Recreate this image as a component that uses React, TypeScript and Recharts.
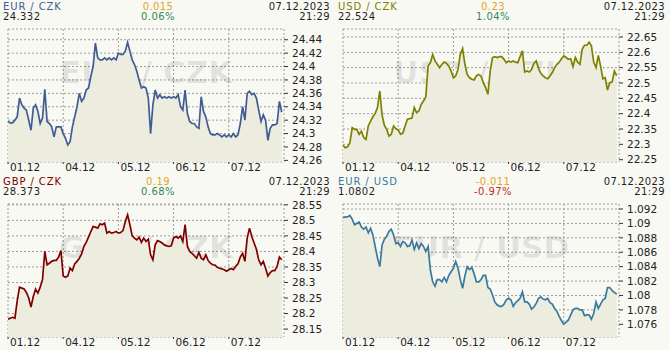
import React from 'react';
import { ComposedChart, Area, Line, XAxis, YAxis, CartesianGrid, Customized } from 'recharts';

// Trading-day boundaries (hour index) and their labels
const dayLabels = ['01.12', '04.12', '05.12', '06.12', '07.12'];
const dayStartHours = [0, 24, 48, 72, 96];
const hoursShown = 120;

// Hourly rates, 01.12 00:00 .. 07.12 ~23:00 (weekend removed)
const eurCzk = [
  24.318, 24.316, 24.316, 24.320, 24.325, 24.353, 24.343, 24.338, 24.335, 24.320,
  24.305, 24.338, 24.343, 24.333, 24.315, 24.323, 24.366, 24.318, 24.315, 24.310,
  24.295, 24.310, 24.310, 24.310, 24.300, 24.293, 24.283, 24.288, 24.310, 24.325,
  24.340, 24.360, 24.348, 24.353, 24.365, 24.368, 24.385, 24.400, 24.435, 24.413,
  24.410, 24.410, 24.413, 24.410, 24.413, 24.410, 24.413, 24.410, 24.420, 24.418,
  24.418, 24.423, 24.436, 24.423, 24.410, 24.403, 24.393, 24.380, 24.368, 24.370,
  24.368, 24.353, 24.300, 24.343, 24.365, 24.353, 24.358, 24.353, 24.355, 24.353,
  24.355, 24.353, 24.355, 24.353, 24.358, 24.340, 24.335, 24.365, 24.330, 24.318,
  24.315, 24.315, 24.310, 24.308, 24.355, 24.333, 24.325, 24.310, 24.300, 24.298,
  24.298, 24.300, 24.298, 24.295, 24.298, 24.295, 24.298, 24.295, 24.300, 24.295,
  24.298, 24.315, 24.340, 24.320, 24.360, 24.363, 24.358, 24.360, 24.353, 24.335,
  24.318, 24.328, 24.320, 24.290, 24.308, 24.313, 24.313, 24.315, 24.348, 24.332,
];

const usdCzk = [
  22.297, 22.289, 22.292, 22.305, 22.354, 22.349, 22.349, 22.333, 22.343, 22.322,
  22.316, 22.360, 22.376, 22.390, 22.401, 22.420, 22.474, 22.395, 22.362, 22.349,
  22.327, 22.333, 22.360, 22.351, 22.347, 22.333, 22.336, 22.360, 22.382, 22.384,
  22.386, 22.420, 22.403, 22.409, 22.430, 22.441, 22.455, 22.555, 22.566, 22.593,
  22.572, 22.561, 22.550, 22.561, 22.568, 22.564, 22.555, 22.539, 22.517, 22.523,
  22.545, 22.593, 22.612, 22.561, 22.528, 22.517, 22.512, 22.510, 22.523, 22.528,
  22.523, 22.501, 22.485, 22.463, 22.539, 22.583, 22.586, 22.583, 22.586, 22.586,
  22.577, 22.566, 22.572, 22.568, 22.572, 22.568, 22.566, 22.586, 22.605, 22.536,
  22.539, 22.536, 22.545, 22.564, 22.572, 22.547, 22.532, 22.523, 22.517, 22.514,
  22.523, 22.534, 22.550, 22.561, 22.568, 22.579, 22.588, 22.583, 22.577, 22.579,
  22.553, 22.583, 22.568, 22.561, 22.610, 22.623, 22.623, 22.633, 22.621, 22.568,
  22.550, 22.590, 22.555, 22.514, 22.517, 22.477, 22.501, 22.503, 22.539, 22.524,
];

const gbpCzk = [
  28.182, 28.185, 28.188, 28.185, 28.240, 28.285, 28.282, 28.279, 28.268, 28.250,
  28.221, 28.255, 28.279, 28.266, 28.285, 28.309, 28.400, 28.357, 28.362, 28.368,
  28.371, 28.371, 28.382, 28.403, 28.321, 28.317, 28.321, 28.346, 28.338, 28.360,
  28.368, 28.378, 28.392, 28.416, 28.429, 28.446, 28.464, 28.480, 28.478, 28.475,
  28.489, 28.486, 28.491, 28.459, 28.464, 28.459, 28.461, 28.464, 28.459, 28.461,
  28.467, 28.496, 28.518, 28.486, 28.450, 28.443, 28.437, 28.446, 28.429, 28.443,
  28.432, 28.439, 28.389, 28.373, 28.421, 28.435, 28.432, 28.427, 28.421, 28.418,
  28.416, 28.418, 28.443, 28.448, 28.443, 28.450, 28.432, 28.486, 28.416, 28.400,
  28.394, 28.386, 28.378, 28.397, 28.378, 28.373, 28.389, 28.371, 28.362, 28.357,
  28.356, 28.349, 28.346, 28.344, 28.341, 28.336, 28.341, 28.345, 28.341, 28.352,
  28.360, 28.382, 28.394, 28.368, 28.443, 28.475, 28.448, 28.427, 28.407, 28.373,
  28.357, 28.368, 28.346, 28.321, 28.332, 28.338, 28.338, 28.352, 28.382, 28.373,
];

const eurUsd = [
  1.0908, 1.0909, 1.0909, 1.0911, 1.0906, 1.0898, 1.0900, 1.0902, 1.0895, 1.0892,
  1.0895, 1.0887, 1.0893, 1.0884, 1.0868, 1.0852, 1.0840, 1.0870, 1.0878, 1.0882,
  1.0889, 1.0892, 1.0884, 1.0872, 1.0873, 1.0868, 1.0875, 1.0873, 1.0868, 1.0869,
  1.0877, 1.0864, 1.0873, 1.0865, 1.0872, 1.0868, 1.0861, 1.0868, 1.0835, 1.0819,
  1.0813, 1.0822, 1.0822, 1.0819, 1.0825, 1.0819, 1.0828, 1.0833, 1.0838, 1.0847,
  1.0838, 1.0822, 1.0810, 1.0827, 1.0840, 1.0836, 1.0839, 1.0830, 1.0819, 1.0819,
  1.0822, 1.0828, 1.0828, 1.0811, 1.0809, 1.0801, 1.0791, 1.0787, 1.0785, 1.0785,
  1.0788, 1.0794, 1.0796, 1.0794, 1.0785, 1.0790, 1.0793, 1.0796, 1.0805, 1.0791,
  1.0791, 1.0788, 1.0781, 1.0784, 1.0789, 1.0796, 1.0798, 1.0795, 1.0794, 1.0796,
  1.0790, 1.0788, 1.0782, 1.0778, 1.0771, 1.0765, 1.0760, 1.0763, 1.0766, 1.0773,
  1.0780, 1.0782, 1.0782, 1.0780, 1.0780, 1.0772, 1.0773, 1.0773, 1.0767, 1.0775,
  1.0791, 1.0782, 1.0788, 1.0794, 1.0796, 1.0811, 1.0811, 1.0807, 1.0804, 1.0802,
];

// Y tick labels per pair
const eurCzkTicks = [24.26, 24.28, 24.3, 24.32, 24.34, 24.36, 24.38, 24.4, 24.42, 24.44];
const usdCzkTicks = [22.25, 22.3, 22.35, 22.4, 22.45, 22.5, 22.55, 22.6, 22.65];
const gbpCzkTicks = [28.15, 28.2, 28.25, 28.3, 28.35, 28.4, 28.45, 28.5, 28.55];
const eurUsdTicks = [1.076, 1.078, 1.08, 1.082, 1.084, 1.086, 1.088, 1.09, 1.092];

// Header texts
const pairNames = ['EUR / CZK', 'USD / CZK', 'GBP / CZK', 'EUR / USD'];
const lastRates = ['24.332', '22.524', '28.373', '1.0802'];
const changes = ['0.015', '0.23', '0.19', '-0.011'];
const changePercents = ['0.06%', '1.04%', '0.68%', '-0.97%'];
const stampDate = '07.12.2023';
const stampTime = '21:29';
const siteMark = 'www.kurzy.cz';

const FONT = "'DejaVu Sans', Verdana, sans-serif";
const BG = '#f9f9f4';
const FILL = '#ecedde';

const panels = [
  { name: pairNames[0], last: lastRates[0], chg: changes[0], pct: changePercents[0], up: true,
    values: eurCzk, ticks: eurCzkTicks, domain: [24.2576, 24.456], color: '#415c95', left: 0, top: 0 },
  { name: pairNames[1], last: lastRates[1], chg: changes[1], pct: changePercents[1], up: true,
    values: usdCzk, ticks: usdCzkTicks, domain: [22.2425, 22.676], color: '#808000', left: 335, top: 0 },
  { name: pairNames[2], last: lastRates[2], chg: changes[2], pct: changePercents[2], up: true,
    values: gbpCzk, ticks: gbpCzkTicks, domain: [28.1246, 28.5526], color: '#800000', left: 0, top: 175 },
  { name: pairNames[3], last: lastRates[3], chg: changes[3], pct: changePercents[3], up: false,
    values: eurUsd, ticks: eurUsdTicks, domain: [1.074238, 1.092694], color: '#3b7a9c', left: 335, top: 175 },
];

const fmt = (v: number) => String(Number(v.toFixed(4)));

function Panel({ p }: { p: any }) {
  const data = p.values.map((v: number, i: number) => ({ t: i, v }));
  const Marks = () => (
    <g>
      <text x={146} y={83} textAnchor="middle" fontFamily={FONT} fontWeight="bold" fontSize={31}
        fill="#000" fillOpacity={0.09}>{p.name}</text>
      <text x={12} y={150} fontFamily={FONT} fontWeight="bold" fontSize={10}
        fill="#000" fillOpacity={0.2}>{siteMark}</text>
    </g>
  );
  return (
    <div style={{ position: 'absolute', left: p.left, top: p.top, width: 335, height: 175 }}>
      <ComposedChart width={335} height={175} data={data} margin={{ top: 29, right: 0, bottom: 0, left: 8 }}>
        <CartesianGrid stroke="#9c9c9c" strokeDasharray="2 2" />
        <XAxis dataKey="t" type="number" domain={[0, hoursShown]} ticks={dayStartHours} interval={0}
          tickFormatter={(v: number) => dayLabels[dayStartHours.indexOf(v)]}
          height={13} axisLine={false} tickLine={{ stroke: '#333' }} tickSize={2} tickMargin={0}
          tick={{ fill: '#222', fontSize: 10.5, textAnchor: 'start', dx: 2, fontFamily: FONT }} allowDataOverflow />
        <YAxis orientation="right" type="number" domain={p.domain} ticks={p.ticks} interval={0} allowDataOverflow
          width={51} axisLine={false} tickLine={{ stroke: '#333' }} tickSize={4} tickMargin={4}
          tick={{ fill: '#222', fontSize: 10.5, fontFamily: FONT }} tickFormatter={fmt} />
        <Area dataKey="v" type="linear" stroke="none" fill={FILL} fillOpacity={1} isAnimationActive={false} />
        <Customized component={Marks} />
        <Line dataKey="v" type="linear" stroke={p.color} strokeWidth={1.7} dot={false} isAnimationActive={false} />
      </ComposedChart>
      <svg width={335} height={28} style={{ position: 'absolute', left: 0, top: 0, pointerEvents: 'none' }}>
        <g fontFamily={FONT}>
          <text x={3} y={9.6} fontSize={10} letterSpacing={0.9} fill={p.color}>{p.name}</text>
          <text x={3} y={20.4} fontSize={10} letterSpacing={0.4} fill="#1e1e1e">{p.last}</text>
          <text x={158} y={9.6} fontSize={10} letterSpacing={0.4} textAnchor="middle" fill="#dfa52a">{p.chg}</text>
          <text x={158} y={20.4} fontSize={10} letterSpacing={0.4} textAnchor="middle" fill={p.up ? '#2e8b57' : '#c32a2a'}>{p.pct}</text>
          <text x={330} y={9.6} fontSize={10} letterSpacing={0.4} textAnchor="end" fill="#1e1e1e">{stampDate}</text>
          <text x={330} y={20.4} fontSize={10} letterSpacing={0.4} textAnchor="end" fill="#1e1e1e">{stampTime}</text>
        </g>
      </svg>
    </div>
  );
}

export default function App() {
  return (
    <div style={{ position: 'absolute', left: 0, top: 0, width: 670, height: 350, background: BG, fontFamily: FONT, overflow: 'hidden' }}>
      {panels.map((p) => <Panel key={p.name} p={p} />)}
    </div>
  );
}
